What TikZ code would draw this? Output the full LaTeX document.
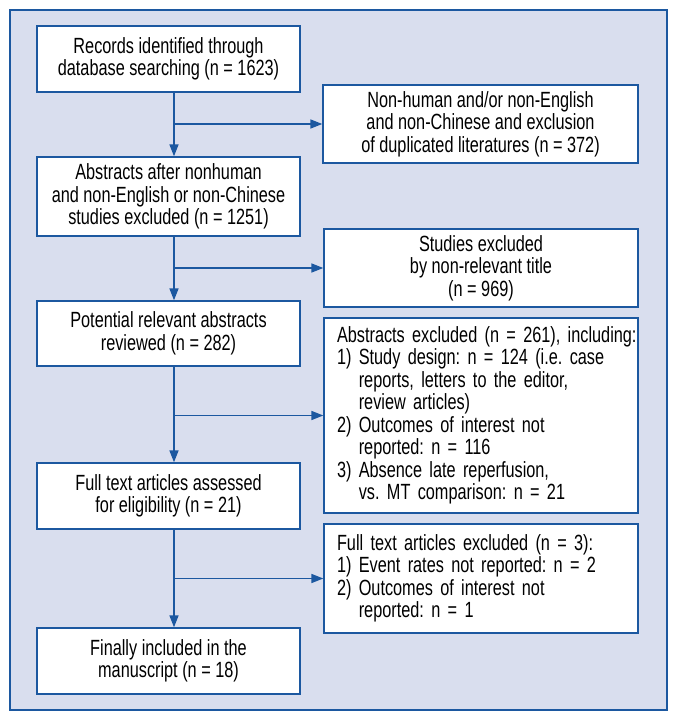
\documentclass[tikz,border=0pt]{standalone}
\usepackage{fontspec}
\setmainfont{Liberation Sans}[FakeStretch=0.74]
\usetikzlibrary{arrows.meta}
\definecolor{fblue}{RGB}{28,88,160}
\definecolor{flav}{RGB}{217,222,238}
\tikzset{
  box/.style={draw=fblue, fill=white, line width=1.3pt, inner ysep=0pt,
    font=\fontsize{22}{22.5}\selectfont},
  cbox/.style={box, align=center, inner xsep=0pt, minimum width=263pt},
  rcbox/.style={box, align=center, inner xsep=0pt, minimum width=314pt},
  lbox/.style={box, align=left, inner xsep=13pt, text width=288pt},
  conn/.style={draw=fblue, line width=1.6pt, -{Triangle[length=12pt,width=9pt]}}
}
\newcommand{\ind}{\hphantom{1)~}}
\frenchspacing
\begin{document}
\begin{tikzpicture}[x=1pt,y=-1pt]
\useasboundingbox (0,0) rectangle (677,721);
\draw[fblue, fill=flav, line width=1.6pt] (10,10) rectangle (667,710);

\node[cbox, minimum height=66pt] (b1) at (168.5,59) {Records identified through\\database searching (n = 1623)};
\node[rcbox, minimum width=315pt, minimum height=78pt] (b2) at (480.5,124) {Non-human and/or non-English\\and non-Chinese and exclusion\\of duplicated literatures (n = 372)};
\node[cbox, minimum height=79pt] (b3) at (168.5,196.5) {Abstracts after nonhuman\\and non-English or non-Chinese\\studies excluded (n = 1251)};
\node[rcbox, minimum height=78pt] (b4) at (481,268) {Studies excluded\\by non-relevant title\\(n = 969)};
\node[cbox, minimum height=65pt] (b5) at (168.5,333.5) {Potential relevant abstracts\\reviewed (n = 282)};
\node[lbox, minimum height=195pt] (b6) at (481,415.5) {\mbox{Abstracts excluded (n = 261), including:}\\\mbox{1) Study design: n = 124 (i.e. case}\\\ind reports, letters to the editor,\\\ind review articles)\\2) Outcomes of interest not\\\ind reported: n = 116\\3) Absence late reperfusion,\\\ind vs. MT comparison: n = 21};
\node[cbox, minimum height=66pt] (b7) at (168.5,496) {Full text articles assessed\\for eligibility (n = 21)};
\node[lbox, minimum height=109pt] (b8) at (481,578.5) {\mbox{Full text articles excluded (n = 3):}\\\mbox{1) Event rates not reported: n = 2}\\2) Outcomes of interest not\\\ind reported: n = 1};
\node[cbox, minimum height=66pt] (b9) at (168.5,661) {Finally included in the\\manuscript (n = 18)};

\coordinate (j1) at (174,124);
\coordinate (j2) at (174,268);
\coordinate (j3) at (174,415.5);
\coordinate (j4) at (174,578.5);

\draw[conn] (b1.south -| j1) -- (b3.north -| j1);
\draw[conn] (j1) -- (j1 -| b2.west);
\draw[conn] (b3.south -| j2) -- (b5.north -| j2);
\draw[conn] (j2) -- (j2 -| b4.west);
\draw[conn] (b5.south -| j3) -- (b7.north -| j3);
\draw[conn] (j3) -- (j3 -| b6.west);
\draw[conn] (b7.south -| j4) -- (b9.north -| j4);
\draw[conn] (j4) -- (j4 -| b8.west);
\end{tikzpicture}
\end{document}
